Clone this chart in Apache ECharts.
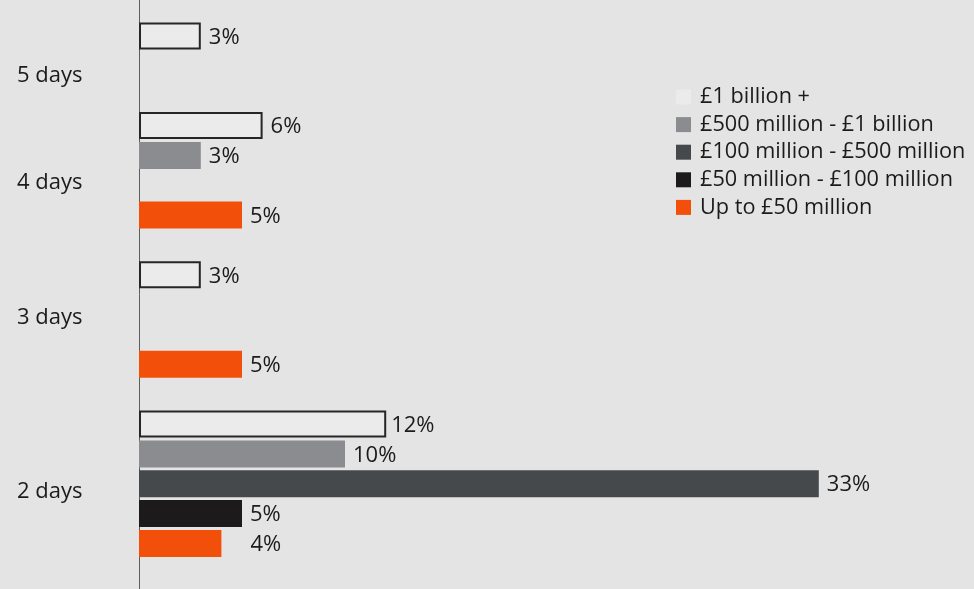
<!DOCTYPE html>
<html>
<head>
<meta charset="utf-8">
<script src="https://cdn.jsdelivr.net/npm/echarts@6/dist/echarts.min.js"></script>
<style>
html,body{margin:0;padding:0;background:#e4e4e4;}
#c{width:974px;height:589px;}
</style>
</head>
<body>
<div id="c"></div>
<script>
// ---- data ----
const groups = ['5 days', '4 days', '3 days', '2 days'];
const seriesNames = ['£1 billion +', '£500 million - £1 billion', '£100 million - £500 million', '£50 million - £100 million', 'Up to £50 million'];
const billionPlus = [3, 6, 3, 12];
const m500to1bn = [null, 3, null, 10];
const m100to500 = [null, null, null, 33];
const m50to100 = [null, null, null, 5];
const upTo50 = [null, 5, 5, 4];

// ---- layout (row slots on the band axis) ----
const ROWS = 19;
const groupStartRow = [0, 3, 8, 13];
const slotOf = [[0,1,2,3,4],[0,1,2,3,3],[0,1,2,3,3],[0,1,2,3,4]];
const groupLabelRow = [1.33, 4.90, 9.45, 15.26];
const colors = ['#ebebeb', '#8b8c8f', '#46494c', '#1c1a1b', '#f2500a'];
const FONT = 'Open Sans';
const FS = 22;

const allValues = [billionPlus, m500to1bn, m100to500, m50to100, upTo50];
const rowCats = Array.from({length: ROWS}, (_, i) => 'r' + i);

function buildData(si) {
  const arr = new Array(ROWS).fill(null);
  allValues[si].forEach((v, gi) => {
    if (v === null) return;
    const item = { value: v };
    if (si === 4 && gi === 3) item.label = { offset: [21, 1.5] };
    if (si === 0 && gi === 3) item.label = { offset: [-3, 1.5] };
    arr[groupStartRow[gi] + slotOf[gi][si]] = item;
  });
  return arr;
}

const series = seriesNames.map((name, si) => ({
  name: name,
  type: 'bar',
  xAxisIndex: 0,
  yAxisIndex: 0,
  barWidth: 27,
  barGap: '-100%',
  data: buildData(si),
  itemStyle: si === 0 ? { color: colors[0], borderColor: '#262626', borderWidth: 2 } : { color: colors[si] },
  label: {
    show: true,
    position: 'right',
    distance: 8,
    offset: [0, 1.5],
    formatter: '{c}%',
    color: '#1b1b1b',
    fontFamily: FONT,
    fontSize: FS
  },
  emphasis: { disabled: true },
  animation: false
}));

const chart = echarts.init(document.getElementById('c'), null, { renderer: 'canvas' });
chart.setOption({
  backgroundColor: '#e4e4e4',
  animation: false,
  textStyle: { fontFamily: FONT },
  grid: [
    { left: 139, right: 11, top: 21.07, bottom: 0.8, containLabel: false },
    { left: 139, right: 11, top: 0, bottom: 0, containLabel: false }
  ],
  xAxis: [
    {
      gridIndex: 0, type: 'value', min: 0, max: 40,
      axisLine: { show: false }, axisTick: { show: false },
      axisLabel: { show: false }, splitLine: { show: false }
    },
    {
      gridIndex: 1, type: 'value', min: 0, max: 40,
      axisLine: { show: false }, axisTick: { show: false },
      axisLabel: { show: false }, splitLine: { show: false }
    }
  ],
  yAxis: [
    {
      gridIndex: 0, type: 'category', data: rowCats, inverse: true,
      axisLine: { show: false },
      axisTick: { show: false }, axisLabel: { show: false }, splitLine: { show: false }
    },
    {
      gridIndex: 0, type: 'value', inverse: true, min: -0.5, max: ROWS - 0.5, position: 'left',
      axisLine: { show: false }, axisTick: { show: false }, splitLine: { show: false },
      axisLabel: {
        show: true,
        customValues: groupLabelRow,
        align: 'left',
        margin: 122,
        color: '#1b1b1b',
        fontFamily: FONT,
        fontSize: FS,
        formatter: function (v) {
          const i = groupLabelRow.findIndex(r => Math.abs(r - v) < 1e-6);
          return i >= 0 ? groups[i] : '';
        }
      }
    },
    {
      gridIndex: 1, type: 'value', min: 0, max: 1, position: 'left',
      axisLine: { show: true, onZero: false, lineStyle: { color: '#5c5c5c', width: 1 } },
      axisTick: { show: false }, axisLabel: { show: false }, splitLine: { show: false }
    }
  ],
  legend: {
    orient: 'vertical',
    left: 676,
    top: 86,
    padding: 0,
    itemWidth: 15,
    itemHeight: 15,
    itemGap: 5.6,
    selectedMode: false,
    data: seriesNames.map((n, i) => ({ name: n, icon: 'rect', itemStyle: { color: colors[i], borderWidth: 0 } })),
    textStyle: { fontFamily: FONT, fontSize: 21.7, color: '#1b1b1b', padding: [0, 0, 0, 4] }
  },
  series: series
});
</script>
</body>
</html>
